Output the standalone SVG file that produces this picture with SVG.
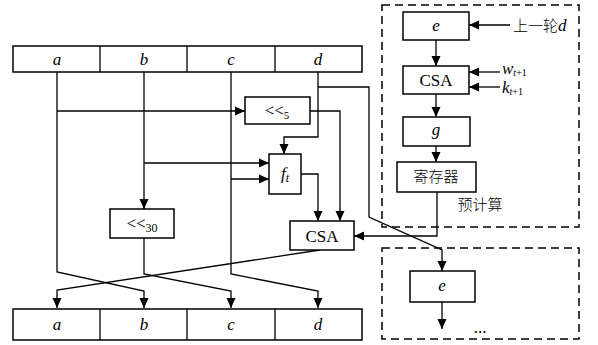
<svg xmlns="http://www.w3.org/2000/svg" width="598" height="345" viewBox="0 0 598 345">
<style>
.box{fill:#fff;stroke:#000;stroke-width:1.5}
.ln{fill:none;stroke:#000;stroke-width:1.3}
.dash{fill:none;stroke:#000;stroke-width:1.5;stroke-dasharray:8 5}
text{font-family:"Liberation Serif","DejaVu Serif",serif;font-size:17px;fill:#000}
.i{font-style:italic}
.cjk{font-family:"Noto Sans CJK SC","Noto Sans CJK TC",sans-serif;font-size:15px;font-weight:300}
</style>
<defs>
<marker id="ah" markerWidth="10" markerHeight="10" refX="10" refY="5" orient="auto" markerUnits="userSpaceOnUse">
<path d="M0,0.5 L10,5 L0,9.5 Z" fill="#000"/>
</marker>
</defs>
<rect class="dash" x="382" y="5" width="197" height="222"/>
<rect class="dash" x="382" y="248" width="197" height="91"/>
<g id="top-register">
<rect class="box" x="13" y="46" width="349" height="26"/>
<path class="ln" d="M100 46V72M187 46V72M275 46V72"/>
<text class="i" x="57" y="65" text-anchor="middle">a</text>
<text class="i" x="144" y="65" text-anchor="middle">b</text>
<text class="i" x="231" y="65" text-anchor="middle">c</text>
<text class="i" x="318" y="65" text-anchor="middle">d</text>
</g>
<g id="bottom-register">
<rect class="box" x="13" y="309" width="349" height="31"/>
<path class="ln" d="M100 309V340M187 309V340M275 309V340"/>
<text class="i" x="57" y="330" text-anchor="middle">a</text>
<text class="i" x="144" y="330" text-anchor="middle">b</text>
<text class="i" x="231" y="330" text-anchor="middle">c</text>
<text class="i" x="318" y="330" text-anchor="middle">d</text>
</g>
<g id="connectors">
<path class="ln" d="M57 72V272L144 291V308" marker-end="url(#ah)"/>
<path class="ln" d="M57 111H245" marker-end="url(#ah)"/>
<path class="ln" d="M144 72V209" marker-end="url(#ah)"/>
<path class="ln" d="M144 163H269" marker-end="url(#ah)"/>
<path class="ln" d="M144 238V274L231 291V308" marker-end="url(#ah)"/>
<path class="ln" d="M231 72V274L318 291V308" marker-end="url(#ah)"/>
<path class="ln" d="M231 179H269" marker-end="url(#ah)"/>
<path class="ln" d="M318 72V137H284V154" marker-end="url(#ah)"/>
<path class="ln" d="M318 87H369V217L442 250V271" marker-end="url(#ah)"/>
<path class="ln" d="M310 111H340V221" marker-end="url(#ah)"/>
<path class="ln" d="M301 174H318V221" marker-end="url(#ah)"/>
<path class="ln" d="M320 250L57 290V308" marker-end="url(#ah)"/>
<path class="ln" d="M437 192V236H354" marker-end="url(#ah)"/>
<path class="ln" d="M510 25H469" marker-end="url(#ah)"/>
<path class="ln" d="M436 40V66" marker-end="url(#ah)"/>
<path class="ln" d="M500 72H469" marker-end="url(#ah)"/>
<path class="ln" d="M500 87H469" marker-end="url(#ah)"/>
<path class="ln" d="M436 94V117" marker-end="url(#ah)"/>
<path class="ln" d="M436 146V162" marker-end="url(#ah)"/>
<path class="ln" d="M442 302V329" marker-end="url(#ah)"/>
</g>
<g id="rot5">
<rect class="box" x="245" y="97" width="65" height="27"/>
<text x="277" y="116" text-anchor="middle" font-size="16">&lt;&lt;<tspan font-size="11" dy="3">5</tspan></text>
</g>
<g id="ft">
<rect class="box" x="269" y="154" width="32" height="40"/>
<text class="i" x="285" y="179" text-anchor="middle">f<tspan font-size="12" dy="3">t</tspan></text>
</g>
<g id="rot30">
<rect class="box" x="110" y="209" width="64" height="29"/>
<text x="142" y="229" text-anchor="middle" font-size="16">&lt;&lt;<tspan font-size="12" dy="3">30</tspan></text>
</g>
<g id="csa-main">
<rect class="box" x="290" y="221" width="64" height="29"/>
<text x="322" y="242" text-anchor="middle">CSA</text>
</g>
<g id="e-pre">
<rect class="box" x="403" y="12" width="66" height="28"/>
<text class="i" x="436" y="31" text-anchor="middle">e</text>
</g>
<text x="513" y="31"><tspan class="cjk">上一轮</tspan><tspan class="i">d</tspan></text>
<g id="csa-pre">
<rect class="box" x="403" y="66" width="66" height="28"/>
<text x="436" y="86" text-anchor="middle">CSA</text>
</g>
<text class="i" x="502" y="74" font-size="15">w<tspan font-size="10" dy="2">t</tspan><tspan font-size="10" font-style="normal">+1</tspan></text>
<text class="i" x="502" y="93" font-size="15">k<tspan font-size="10" dy="2">t</tspan><tspan font-size="10" font-style="normal">+1</tspan></text>
<g id="g-pre">
<rect class="box" x="403" y="117" width="67" height="29"/>
<text class="i" x="436" y="135" text-anchor="middle">g</text>
</g>
<g id="register">
<rect class="box" x="397" y="162" width="79" height="30"/>
<text class="cjk" x="436" y="182" text-anchor="middle">寄存器</text>
</g>
<text class="cjk" x="480" y="210" text-anchor="middle">预计算</text>
<g id="e-next">
<rect class="box" x="410" y="271" width="65" height="31"/>
<text class="i" x="442" y="291" text-anchor="middle">e</text>
</g>
<text x="480" y="333" text-anchor="middle" font-size="13">...</text>
</svg>
